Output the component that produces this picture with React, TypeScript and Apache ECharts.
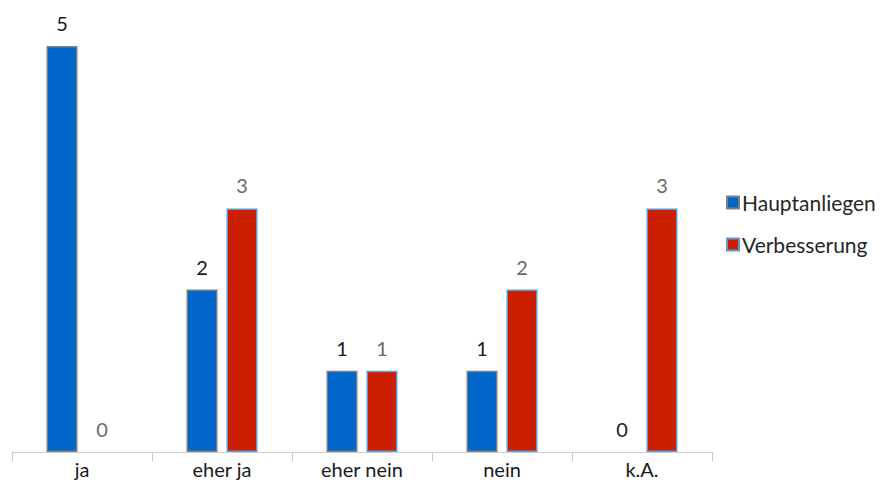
import React, { useEffect, useRef } from "react";
import * as echarts from "echarts";

const categories = ["ja", "eher ja", "eher nein", "nein", "k.A."];
const hauptanliegen = [5, 2, 1, 1, 0];
const verbesserung = [0, 3, 1, 2, 3];
const seriesNames = ["Hauptanliegen", "Verbesserung"];

const FONT = "Lato, 'Open Sans', sans-serif";

// Zero-height bars get no outline, so nothing is stroked along the baseline.
const toBarData = (values: number[]) =>
  values.map((v) => (v === 0 ? { value: v, itemStyle: { borderWidth: 0 } } : v));

export default function App() {
  const ref = useRef<HTMLDivElement>(null);

  useEffect(() => {
    if (!ref.current) return;
    const chart = echarts.init(ref.current, undefined, { renderer: "svg" });
    chart.setOption({
      animation: false,
      backgroundColor: "#ffffff",
      textStyle: { fontFamily: FONT },
      grid: { left: 12, right: 173, top: 46, bottom: 42, containLabel: false },
      legend: {
        orient: "vertical",
        left: 721,
        top: 187,
        itemWidth: 12,
        itemHeight: 12,
        itemGap: 21,
        icon: "rect",
        data: seriesNames,
        textStyle: { fontFamily: FONT, fontSize: 21, color: "#262626", padding: [0, 0, 0, -2] },
      },
      xAxis: {
        type: "category",
        data: categories,
        axisLine: { lineStyle: { color: "#d0d0d0", width: 1 } },
        axisTick: { show: true, length: 9, lineStyle: { color: "#c8c8c8" } },
        axisLabel: { color: "#1a1a1a", fontSize: 20, fontFamily: FONT, margin: 7 },
      },
      yAxis: {
        type: "value",
        min: 0,
        max: 5,
        show: false,
        splitLine: { show: false },
      },
      series: [
        {
          name: seriesNames[0],
          type: "bar",
          data: toBarData(hauptanliegen),
          barWidth: 31,
          barGap: "29%",
          itemStyle: { color: "#0066cc", borderColor: "#7f7f7f", borderWidth: 1.5 },
          label: {
            show: true,
            position: "top",
            distance: 13,
            color: "#1a1a1a",
            fontSize: 20,
            fontFamily: FONT,
          },
        },
        {
          name: seriesNames[1],
          type: "bar",
          data: toBarData(verbesserung),
          barWidth: 31,
          itemStyle: { color: "#cc1f00", borderColor: "#5b9bd5", borderWidth: 1.5 },
          label: {
            show: true,
            position: "top",
            distance: 13,
            color: "#6b6b6b",
            fontSize: 20,
            fontFamily: FONT,
          },
        },
      ],
    });
    return () => chart.dispose();
  }, []);

  return <div ref={ref} style={{ width: 885, height: 494, margin: -8 }} />;
}
